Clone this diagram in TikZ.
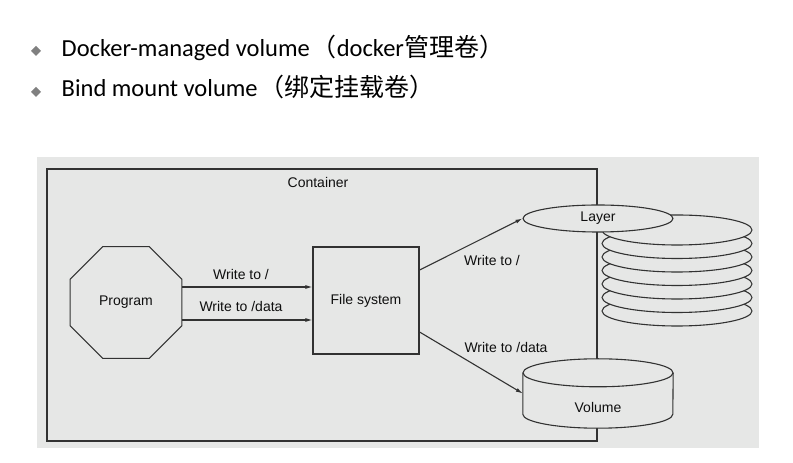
\documentclass[tikz,border=0pt]{standalone}
\usepackage{fontspec}
\setmainfont{Carlito}
\newfontfamily\cjk{Noto Sans CJK SC}
\newfontfamily\diag{Liberation Sans}
\usetikzlibrary{arrows.meta,shapes.geometric}
\definecolor{bggray}{RGB}{230,231,230}
\definecolor{ln}{RGB}{50,50,50}
\definecolor{txt}{RGB}{15,15,15}
\definecolor{bul}{RGB}{128,128,128}
\newcommand{\cjkbig}{\cjk\fontsize{25}{28}\selectfont}
\begin{document}
\begin{tikzpicture}[x=1pt,y=1pt,
  lbl/.style={font=\diag\fontsize{14}{16}\selectfont, text=txt, inner sep=0pt},
  arr/.style={draw=ln, line width=1.1pt, -{Latex[length=7pt,width=4pt]}},
  shp/.style={draw=ln, line width=1.1pt, fill=bggray},
  bullettxt/.style={anchor=base west, inner sep=0pt, font=\fontsize{24.5}{28}\selectfont, text=black}
]
\useasboundingbox (0,0) rectangle (793,463);
\fill[white] (0,0) rectangle (793,463);
% bullets
\fill[bul] (36,417) -- (41,412) -- (36,407) -- (31,412) -- cycle;
\fill[bul] (36,376) -- (41,371) -- (36,366) -- (31,371) -- cycle;
\node[bullettxt] (b1) at (61.5,406.5) {Docker-managed volume\hspace{2pt}{\cjkbig（}docker{\cjkbig 管理卷）}};
\node[bullettxt] (b2) at (61.5,366) {Bind mount volume\hspace{2pt}{\cjkbig（绑定挂载卷）}};
% background panel
\fill[bggray] (37,15) rectangle (759,306);
% container
\draw[ln, line width=1.1pt] (47,22) rectangle (597,294);
\node[lbl] (cont) at (318,280) {Container};
% program
\node[regular polygon, regular polygon sides=8, minimum size=121pt, inner sep=0pt, shp] (prog) at (126,160.5) {};
\node[lbl] (progl) at (126,160.5) {Program};
% file system
\node[rectangle, minimum width=106pt, minimum height=107pt, inner sep=0pt, shp] (fs) at (366,162.5) {};
\node[lbl] (fsl) at (366,162.5) {File system};
% arrows program -> fs
\draw[arr] ([yshift=15.5pt]prog.east) -- ([yshift=15.5pt]prog.east -| fs.west);
\draw[arr] ([yshift=-17.5pt]prog.east) -- ([yshift=-17.5pt]prog.east -| fs.west);
\node[lbl] (w1) at (241,189) {Write to /};
\node[lbl] (w2) at (241,157) {Write to /data};
% layer stack
\foreach \i in {6,5,...,0}{
  \draw[shp] (677,{233-13.5*\i}) ellipse [x radius=75pt, y radius=15pt];
}
\node[ellipse, minimum width=150pt, minimum height=27pt, inner sep=0pt, shp] (layer) at (598,244.5) {};
\node[lbl] (layerl) at (598,245) {Layer};
% volume cylinder
\node[rectangle, minimum width=150pt, minimum height=41pt, inner sep=0pt] (vol) at (598,69.5) {};
\filldraw[shp] (vol.north west) -- (vol.south west) arc[start angle=180, end angle=360, x radius=75pt, y radius=14pt] -- (vol.north east);
\draw[shp] (vol.north) ellipse [x radius=75pt, y radius=14pt];
\node[lbl] (voll) at (598,56) {Volume};
% arrows fs -> layer / volume
\draw[arr] ([yshift=30.5pt]fs.east) -- (layer.west);
\draw[arr] ([yshift=-31.5pt]fs.east) -- (vol.west);
\node[lbl] (w3) at (492,202) {Write to /};
\node[lbl] (w4) at (506,116) {Write to /data};
\end{tikzpicture}
\end{document}
